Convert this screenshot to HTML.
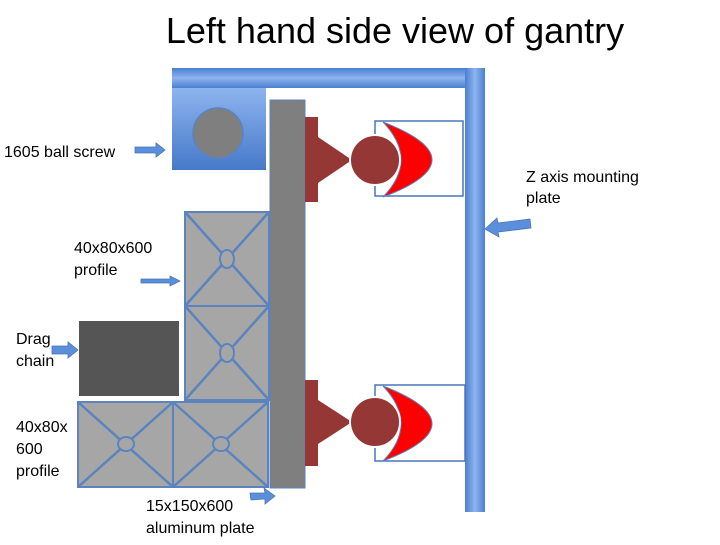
<!DOCTYPE html>
<html><head><meta charset="utf-8"><style>
html,body{margin:0;padding:0;background:#fff;}
text{font-family:"Liberation Sans",sans-serif;fill:#000;}
</style></head><body>
<svg width="720" height="540" viewBox="0 0 720 540" xmlns="http://www.w3.org/2000/svg">
<defs>
<linearGradient id="bv" x1="0" y1="0" x2="1" y2="0"><stop offset="0" stop-color="#4a7fd0"/><stop offset="0.5" stop-color="#8db4ef"/><stop offset="1" stop-color="#4a7fd0"/></linearGradient>
<linearGradient id="bh" x1="0" y1="0" x2="0" y2="1"><stop offset="0" stop-color="#4a7fd0"/><stop offset="0.5" stop-color="#8db4ef"/><stop offset="1" stop-color="#4a7fd0"/></linearGradient>
<linearGradient id="bb" x1="0" y1="0" x2="0" y2="1"><stop offset="0" stop-color="#8db4ef"/><stop offset="1" stop-color="#4679c9"/></linearGradient>
<g id="prof"><rect x="0" y="0" width="84" height="94" fill="#a6a6a6" stroke="#5a83c0" stroke-width="2"/><path d="M0,0L84,94M84,0L0,94" stroke="#5a83c0" stroke-width="2.5"/><ellipse cx="42" cy="47" rx="7" ry="9" fill="#a6a6a6" stroke="#5a83c0" stroke-width="2"/></g>
<g id="prof2"><rect x="0" y="0" width="95" height="85" fill="#a6a6a6" stroke="#5a83c0" stroke-width="2"/><path d="M0,0L95,85M95,0L0,85" stroke="#5a83c0" stroke-width="2.5"/><ellipse cx="48" cy="42" rx="8" ry="7" fill="#a6a6a6" stroke="#5a83c0" stroke-width="2"/></g>
</defs>
<text x="395" y="43" font-size="36" text-anchor="middle">Left hand side view of gantry</text>
<rect x="172" y="68" width="300" height="20" fill="url(#bh)"/>
<rect x="465" y="68" width="20" height="444" fill="url(#bv)"/>
<rect x="172" y="88" width="94" height="82" fill="url(#bb)"/>
<circle cx="218" cy="133" r="25" fill="#7f7f7f" stroke="#5a83c0" stroke-width="1.5"/>
<use href="#prof" x="185" y="212"/>
<use href="#prof" x="185" y="306"/>
<use href="#prof2" x="78" y="402"/>
<use href="#prof2" x="173" y="402"/>
<rect x="79" y="321" width="100" height="75" fill="#555555"/>
<rect x="270" y="100" width="35" height="388" fill="#7f7f7f" stroke="#5a83c0" stroke-width="1"/>
<rect x="375" y="121" width="88" height="75" fill="#fff" stroke="#4a76b8" stroke-width="1.5"/>
<rect x="305" y="117" width="13" height="85" fill="#953735"/>
<polygon points="318,137 352,160 318,183" fill="#953735"/>
<path d="M383,122 Q481,160 383,197 Q419,160 383,122Z" fill="#ff0000" stroke="#5a83c0" stroke-width="1"/>
<circle cx="375" cy="160" r="25" fill="#953735" stroke="#fff" stroke-width="2"/>
<rect x="375" y="385" width="90" height="76" fill="#fff" stroke="#4a76b8" stroke-width="1.5"/>
<rect x="305" y="380" width="13" height="86" fill="#953735"/>
<polygon points="318,400 352,422 318,444" fill="#953735"/>
<path d="M383,386 Q481,424 383,461 Q419,424 383,386Z" fill="#ff0000" stroke="#5a83c0" stroke-width="1"/>
<circle cx="375" cy="422" r="25" fill="#953735" stroke="#fff" stroke-width="2"/>
<g fill="#5b8fd9" stroke="#4a76b8" stroke-width="0.8">
<polygon points="135,147 156,147 156,143 165,150 156,157 156,153 135,153"/>
<polygon points="141,279 170,279 170,276 180,281 170,286 170,283 141,283"/>
<polygon points="52,346 68,346 68,342 78,350 68,358 68,354 52,354"/>
<polygon points="530,219 498,223 497,218 485,229 499,237 498,232 531,228"/>
<polygon points="250,493 265,493 264,488 275,496 265,504 265,499 251,500"/>
</g>
<g font-size="16">
<text x="4" y="157">1605 ball screw</text>
<text x="74" y="253">40x80x600</text>
<text x="74" y="275">profile</text>
<text x="16" y="344">Drag</text>
<text x="16" y="366">chain</text>
<text x="16" y="432">40x80x</text>
<text x="16" y="454">600</text>
<text x="16" y="476">profile</text>
<text x="146" y="511">15x150x600</text>
<text x="146" y="533">aluminum plate</text>
<text x="526" y="182">Z axis mounting</text>
<text x="526" y="203">plate</text>
</g>
</svg>
</body></html>
